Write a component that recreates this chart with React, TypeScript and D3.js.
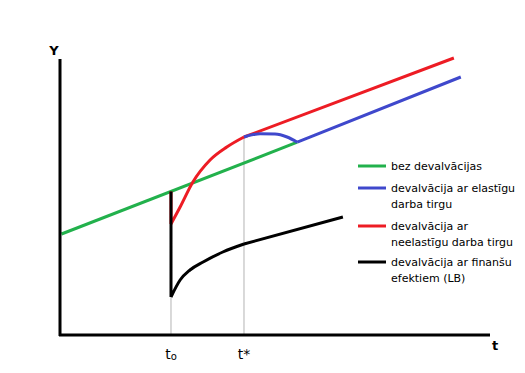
import React from "react";
import * as d3 from "d3";

type P = [number, number];

// time units: t0 = 3, t* = 5
const T0 = 3;
const TSTAR = 5;
const xTickLabels = ["t", "t*"];

const greenLine: P[] = [[0, 5.05], [6.46, 9.64]];
const blueCurve: P[] = [[5, 9.9], [5.25, 10.02], [5.44, 10.06], [5.85, 10.05], [6.18, 9.9], [6.46, 9.64]];
const blueTail: P[] = [[6.46, 9.64], [10.94, 12.9]];
const redDrop: P[] = [[3, 7.17], [3, 5.55]];
const redCurve: P[] = [[3, 5.55], [3.25, 6.4], [3.6, 7.65], [4.07, 8.75], [4.53, 9.4], [5, 9.9]];
const redTail: P[] = [[5, 9.9], [10.75, 13.85]];
const blackDrop: P[] = [[3, 7.17], [3, 1.9]];
const blackCurve: P[] = [[3, 1.9], [3.25, 2.75], [3.52, 3.25], [3.88, 3.65], [4.42, 4.15], [5, 4.55]];
const blackTail: P[] = [[5, 4.55], [7.71, 5.9]];

const legendLabels = [
  ["bez devalvācijas"],
  ["devalvācija ar elastīgu", "darba tirgu"],
  ["devalvācija ar", "neelastīgu darba tirgu"],
  ["devalvācija ar finanšu", "efektiem (LB)"],
];
const legendColors = ["#22b14c", "#3f48cc", "#ed1c24", "#000000"];

export default function App() {
  const x = d3.scaleLinear().domain([0, 11.74]).range([61.5, 490]);
  const y = d3.scaleLinear().domain([0, 14]).range([335, 55]);

  const lin = d3.line<P>().x((d) => x(d[0])).y((d) => y(d[1]));
  const mono = d3
    .line<P>()
    .x((d) => x(d[0]))
    .y((d) => y(d[1]))
    .curve(d3.curveMonotoneX);

  const greenPath = lin(greenLine)!;
  const redPath = lin(redDrop)! + " " + mono(redCurve)! + " " + lin(redTail)!;
  const blackPath = lin(blackDrop)! + " " + mono(blackCurve)! + " " + lin(blackTail)!;
  const bluePath = mono(blueCurve)! + " " + lin(blueTail)!;

  const legendY = [166, 188, 226, 262];
  const font = "'DejaVu Sans', Verdana, sans-serif";

  return (
    <div style={{ position: "absolute", left: 0, top: 0 }}>
      <svg width={525} height={373} style={{ display: "block", background: "#fff" }}>
        {/* guide lines */}
        <line x1={x(T0)} x2={x(T0)} y1={y(1.9)} y2={335} stroke="#b4b4b4" strokeWidth={1} />
        <line x1={x(TSTAR)} x2={x(TSTAR)} y1={y(9.9)} y2={335} stroke="#b4b4b4" strokeWidth={1} />

        <path d={greenPath} fill="none" stroke={legendColors[0]} strokeWidth={3} />
        <path d={redPath} fill="none" stroke={legendColors[2]} strokeWidth={3} />
        <path d={bluePath} fill="none" stroke={legendColors[1]} strokeWidth={3} />
        <path d={blackPath} fill="none" stroke={legendColors[3]} strokeWidth={3} strokeLinejoin="round" />

        {/* axes */}
        <line x1={60} x2={60} y1={59} y2={336} stroke="#000" strokeWidth={3} />
        <line x1={59} x2={490} y1={335} y2={335} stroke="#000" strokeWidth={3} />

        <text x={54} y={55} fontFamily={font} fontSize={13} fontWeight="bold" textAnchor="middle">Y</text>
        <text x={495} y={350} fontFamily={font} fontSize={13} fontWeight="bold" textAnchor="middle">t</text>

        <text x={x(T0)} y={359} fontFamily={font} fontSize={14} textAnchor="middle">
          {xTickLabels[0]}
          <tspan fontSize={10} dy={1}>o</tspan>
        </text>
        <text x={x(TSTAR)} y={359} fontFamily={font} fontSize={14} textAnchor="middle">{xTickLabels[1]}</text>

        {/* legend */}
        {legendLabels.map((lines, i) => (
          <g key={i}>
            <line x1={358} x2={386} y1={legendY[i]} y2={legendY[i]} stroke={legendColors[i]} strokeWidth={3} />
            {lines.map((s, j) => (
              <text key={j} x={391} y={legendY[i] + j * 15.5 + 4} fontFamily={font} fontSize={11} fill="#000">
                {s}
              </text>
            ))}
          </g>
        ))}
      </svg>
    </div>
  );
}
